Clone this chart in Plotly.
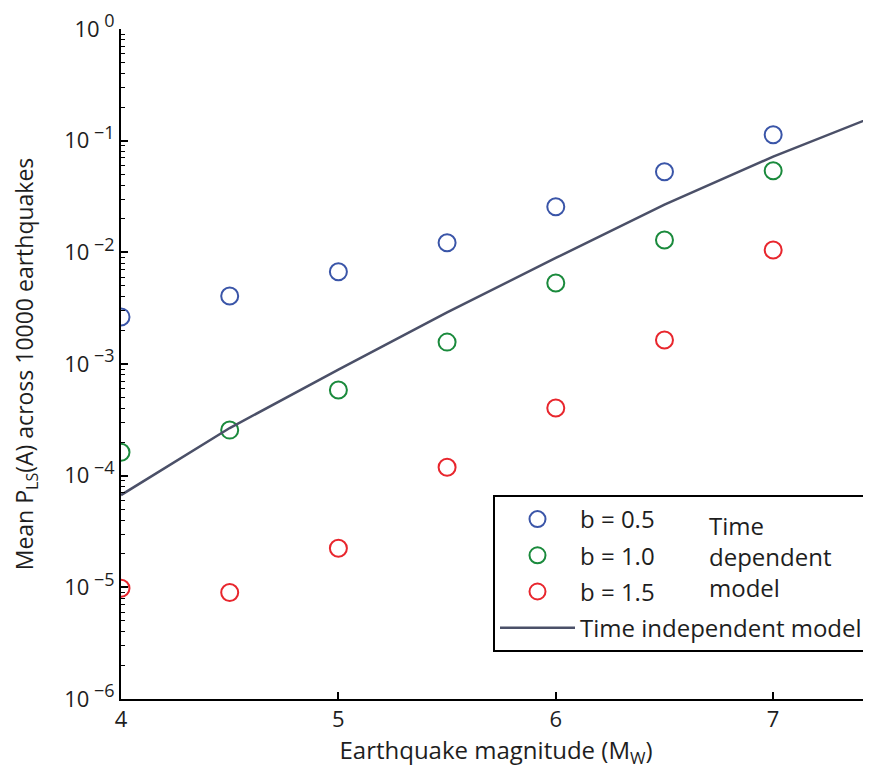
import plotly.graph_objects as go

magnitudes = [4.0, 4.5, 5.0, 5.5, 6.0, 6.5, 7.0]
b05 = [2.64e-3, 4.07e-3, 6.7e-3, 1.22e-2, 2.56e-2, 5.27e-2, 0.113]
b10 = [1.62e-4, 2.56e-4, 5.85e-4, 1.57e-3, 5.32e-3, 1.29e-2, 5.38e-2]
b15 = [9.8e-6, 9.0e-6, 2.24e-5, 1.19e-4, 4.03e-4, 1.64e-3, 1.05e-2]
line_x = [4.0, 4.5, 5.0, 5.5, 6.0, 6.5, 7.0, 7.5]
line_y = [6.7e-5, 2.67e-4, 8.9e-4, 2.9e-3, 8.9e-3, 2.67e-2, 7.2e-2, 0.175]

y_tickvals = [1e-6, 1e-5, 1e-4, 1e-3, 1e-2, 1e-1, 1]
y_exponents = ["\u22126", "\u22125", "\u22124", "\u22123", "\u22122", "\u22121", "0"]
y_ticktext = ['10<sup><span style="font-size:18px"> %s</span></sup>' % e for e in y_exponents]
minor_vals = [m * 10 ** e for e in range(-6, 0) for m in range(2, 10)]

FONT = "Open Sans, Lato, sans-serif"
TXT = "#1e1e1e"

# page body adds an 8px offset, so the figure is drawn 8px smaller and offset
OFF = 8
W, H = 871 - OFF, 776 - OFF
L, R, T, B = 121 - OFF, 0, 29 - OFF, 77
PW, PH = W - L - R, H - T - B


def px_x(x):
    return (x - OFF - L) / PW


def px_y(y):
    return (H - B - (y - OFF)) / PH


fig = go.Figure()
mk = dict(symbol="circle-open", size=17, line=dict(width=2))
fig.add_trace(go.Scatter(x=magnitudes, y=b05, mode="markers", name="b = 0.5", legendgroup="a",
                         marker=dict(color="#3a55a8", **mk)))
fig.add_trace(go.Scatter(x=magnitudes, y=b10, mode="markers", name="b = 1.0", legendgroup="b",
                         marker=dict(color="#1a8a3c", **mk)))
fig.add_trace(go.Scatter(x=magnitudes, y=b15, mode="markers", name="b = 1.5", legendgroup="c",
                         marker=dict(color="#e8262d", **mk)))
fig.add_trace(go.Scatter(x=line_x, y=line_y, mode="lines", name="Time independent model",
                         legendgroup="d", line=dict(color="#4b5068", width=2.5)))

fig.update_layout(
    width=W, height=H,
    margin=dict(l=L, r=R, t=T, b=B, autoexpand=False),
    paper_bgcolor="white", plot_bgcolor="white",
    font=dict(family=FONT, size=22, color=TXT),
    showlegend=True,
    legend=dict(x=px_x(493), y=px_y(495), xanchor="left", yanchor="top",
                bordercolor="black", borderwidth=2, bgcolor="white",
                font=dict(size=24, color=TXT), itemwidth=75, tracegroupgap=2),
    xaxis=dict(range=[4, 7.45], tickvals=[4, 5, 6, 7], ticks="inside", ticklen=7,
               tickwidth=1.5, tickcolor="black", showline=True, linecolor="black", linewidth=2,
               showgrid=False, zeroline=False, mirror=False, automargin=False,
               title=dict(text="Earthquake magnitude (M<sub>W</sub>)", font=dict(size=24), standoff=6),
               tickfont=dict(size=22)),
    yaxis=dict(type="log", range=[-6, 0], tickvals=y_tickvals, ticktext=y_ticktext,
               ticks="inside", ticklen=7, tickwidth=1.5, tickcolor="black", showline=True,
               linecolor="black", linewidth=2, showgrid=False, zeroline=False, automargin=False,
               minor=dict(tickvals=minor_vals, ticks="inside", ticklen=4, tickwidth=1.2,
                          tickcolor="black", showgrid=False),
               title=dict(text="Mean P<sub>LS</sub>(A) across 10000 earthquakes",
                          font=dict(size=23), standoff=26),
               tickfont=dict(size=22)),
)

fig.add_annotation(xref="paper", yref="paper", x=px_x(707), y=px_y(507),
                   xanchor="left", yanchor="top", align="left", showarrow=False,
                   text="Time<br>dependent<br>model", font=dict(size=24, family=FONT, color=TXT))

fig.write_html("out.html")
